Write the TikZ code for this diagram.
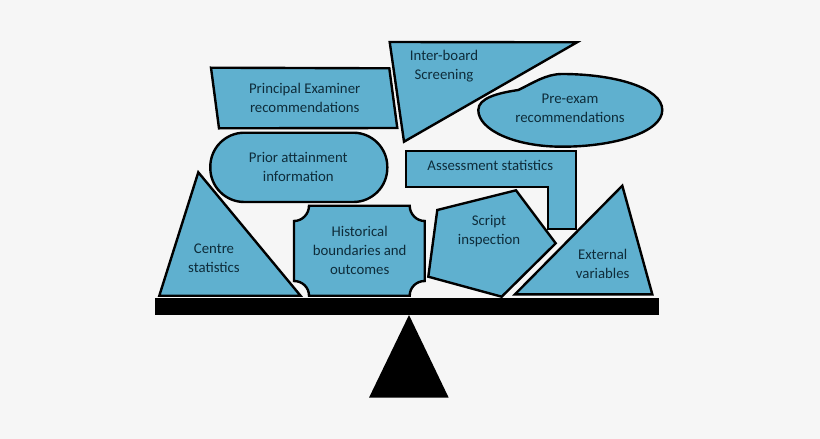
\documentclass[tikz,border=0pt]{standalone}
\usepackage{fontspec}
\setmainfont{Carlito}
\definecolor{paper}{HTML}{F6F6F6}
\definecolor{piece}{HTML}{5FB0CF}
\definecolor{ink}{HTML}{0E2C3A}

\begin{document}
\begin{tikzpicture}[
    x=0.5pt, y=-0.5pt,
    piecebox/.style={draw=black, fill=piece, line width=1.2pt, miter limit=10},
    caption/.style={align=center, inner sep=0pt, text=ink, font=\fontsize{7.4}{9.5}\selectfont}
]
\useasboundingbox (0,0) rectangle (820,439);
\fill[paper] (0,0) rectangle (820,439);

% Scale
\fill[black] (155,298.3) rectangle (659.3,315);
\fill[black] (409,315) -- (448.7,397.7) -- (369,397.7) -- cycle;

% Top pieces
\draw[piecebox] (211,67.7) -- (389.3,68.3) -- (397.3,128) -- (219,128.3) -- cycle;
\draw[piecebox] (389.7,42) -- (577,42.3) -- (404,141.7) -- cycle;
\draw[piecebox] (518.3,90) .. controls (533,83) and (546,74) .. (562,74)
    .. controls (615,74) and (662.3,88) .. (662.3,110)
    .. controls (662.3,132) and (615,146.7) .. (562,146.7)
    .. controls (515,146.7) and (478.3,130) .. (478.3,110)
    .. controls (478.3,98) and (498,93) .. (518.3,90) -- cycle;

% Middle pieces
\draw[piecebox, rounded corners=17pt] (210.3,132.7) rectangle (387.3,202);
\draw[piecebox] (405.7,150.7) -- (575.7,150.7) -- (575.7,229) -- (547.7,229)
    -- (547.7,186.7) -- (405.7,186.7) -- cycle;

% Bottom pieces
\draw[piecebox] (198.3,172.3) -- (300.5,295.7) -- (159.3,295.7) -- cycle;
\draw[piecebox] (309,205.7) -- (409.7,205.7)
    .. controls (409.7,214) and (416.4,221) .. (424.7,221) -- (424.7,281)
    .. controls (416.4,281) and (409.7,287.4) .. (409.7,295.7) -- (309,295.7)
    .. controls (309,287.4) and (302.3,281) .. (294,281) -- (294,221)
    .. controls (302.3,221) and (309,214) .. (309,205.7) -- cycle;
\draw[piecebox] (437.3,210) -- (516,190.3) -- (555.7,243.3) -- (501.7,296.7) -- (428.3,276.7) -- cycle;
\draw[piecebox] (622.3,185.7) -- (652.3,294.3) -- (515,294.3) -- cycle;

% Labels
\node[caption] (principal) at (304.7,98) {Principal Examiner\\recommendations};
\node[caption] (interboard) at (444,66) {Inter-board\\Screening};
\node[caption] (preexam) at (570,108.5) {Pre-exam\\recommendations};
\node[caption] (prior) at (298.3,167) {Prior attainment\\information};
\node[caption] (assessment) at (490.3,165) {Assessment statistics};
\node[caption] (centre) at (214,258.5) {Centre\\statistics};
\node[caption] (historical) at (359.7,250) {Historical\\boundaries and\\outcomes};
\node[caption] (script) at (489,231.5) {Script\\inspection};
\node[caption] (external) at (602.7,263.5) {External\\variables};
\end{tikzpicture}
\end{document}
